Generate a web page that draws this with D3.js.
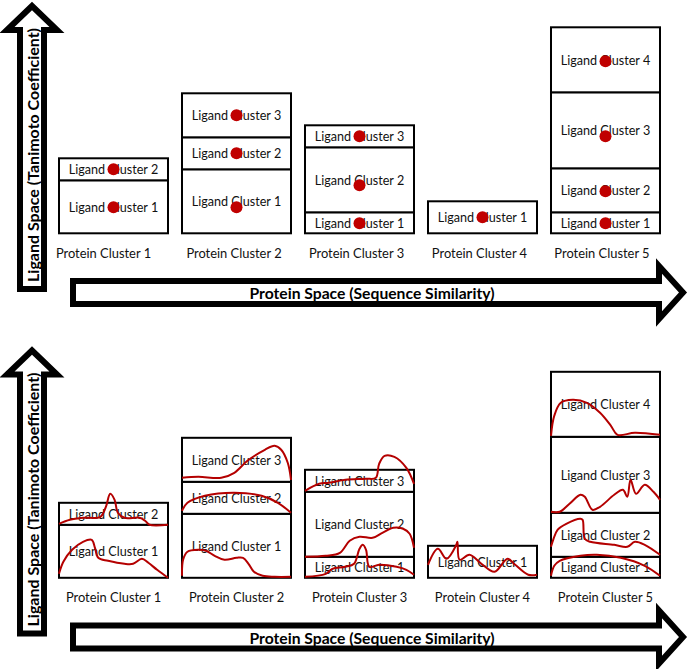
<!DOCTYPE html>
<html><head><meta charset="utf-8">
<script src="https://cdn.jsdelivr.net/npm/d3@7"></script>
<style>html,body{margin:0;padding:0;background:#fff;}svg{display:block;}</style>
</head><body>
<svg id="chart" width="689" height="669"></svg>
<script>
// ---------- data ----------
const proteinClusters = ["Protein Cluster 1","Protein Cluster 2","Protein Cluster 3","Protein Cluster 4","Protein Cluster 5"];
// extent of each ligand cluster (bottom to top) in ligand-space units
const ligandHeightsPC1 = [53, 22];
const ligandHeightsPC2 = [64, 32, 44];
const ligandHeightsPC3 = [21, 65, 22];
const ligandHeightsPC4 = [32];
const ligandHeightsPC5 = [21, 44, 76, 65];
// representative ligand value of each ligand cluster (top panel dots)
const dotValuesPC1 = [26, 64];
const dotValuesPC2 = [26, 80, 118];
const dotValuesPC3 = [10, 48, 97];
const dotValuesPC4 = [16];
const dotValuesPC5 = [10, 42, 97, 172];
// density profiles (bottom panel): [position across protein cluster, density]
const densityPC1 = [
  [[0,4],[0.04,16],[0.12,28],[0.22,36],[0.3,38],[0.33,30],[0.36,20],[0.45,17],[0.6,14],[0.68,14],[0.76,19],[0.82,15],[0.9,8],[1,0]],
  [[0,1],[0.1,5],[0.22,7],[0.38,8],[0.43,18],[0.47,31],[0.51,25],[0.54,12],[0.6,7],[0.74,7],[0.79,4],[0.83,0],[1,0]]
];
const densityPC2 = [
  [[0,2],[0.01,18],[0.05,26],[0.15,28],[0.22,27],[0.3,22],[0.39,18],[0.5,20],[0.56,20],[0.61,14],[0.66,6],[0.74,2],[0.85,1],[1,1]],
  [[0,3],[0.05,11],[0.21,18],[0.48,21],[0.73,18],[0.88,11],[1,1]],
  [[0,4],[0.15,5],[0.36,4],[0.48,9],[0.6,21],[0.76,32],[0.85,36],[0.91,32],[0.97,19],[1,2]]
];
const densityPC3 = [
  [[0,1],[0.19,4],[0.25,9],[0.37,11],[0.45,14],[0.5,29],[0.53,33],[0.56,28],[0.59,11],[0.68,13],[0.84,11],[0.93,8],[1,3]],
  [[0,0],[0.19,1],[0.32,4],[0.41,16],[0.5,20],[0.62,19],[0.71,24],[0.81,29],[0.9,28],[0.96,23],[1,9]],
  [[0,1],[0.13,8],[0.22,9],[0.37,12],[0.56,13],[0.65,14],[0.68,28],[0.73,36],[0.82,35],[0.93,24],[1,8]]
];
const densityPC4 = [
  [[0,13],[0.09,29],[0.17,19],[0.26,33],[0.27,36],[0.29,18],[0.38,23],[0.49,14],[0.61,6],[0.73,19],[0.8,13],[0.92,3],[1,3]]
];
const densityPC5 = [
  [[0,2],[0.03,12],[0.08,17],[0.27,22],[0.42,23],[0.64,20],[0.86,12],[1,2]],
  [[0,10],[0.02,17],[0.06,27],[0.14,33],[0.27,38],[0.29,37],[0.31,18],[0.36,15],[0.58,12],[0.7,10],[0.77,15],[0.86,12],[1,2]],
  [[0,1],[0.08,1],[0.17,9],[0.27,18],[0.31,16],[0.38,3],[0.45,6],[0.58,18],[0.66,23],[0.7,16],[0.73,33],[0.78,19],[0.86,28],[0.94,21],[1,13]],
  [[0,1],[0.03,21],[0.09,34],[0.2,37],[0.33,34],[0.45,24],[0.55,11],[0.61,2],[0.77,4],[1,2]]
];
const yAxisTitle = "Ligand Space (Tanimoto Coefficient)";
const xAxisTitle = "Protein Space (Sequence Similarity)";
const ligandLabelPrefix = "Ligand Cluster ";

const ligandHeights = [ligandHeightsPC1, ligandHeightsPC2, ligandHeightsPC3, ligandHeightsPC4, ligandHeightsPC5];
const dotValues = [dotValuesPC1, dotValuesPC2, dotValuesPC3, dotValuesPC4, dotValuesPC5];
const densities = [densityPC1, densityPC2, densityPC3, densityPC4, densityPC5];

// ---------- drawing ----------
const svg = d3.select("#chart");
const FONT = "Lato, 'Open Sans', sans-serif";
const RED = "#c00000";

const x = d3.scaleBand().domain(proteinClusters).range([59, 660]).paddingInner(0.1138).paddingOuter(0);
const panelOffsets = [0, 344.5];
// small horizontal nudges of the protein labels in the upper panel
const topLabelNudge = [-10, -2.5, -3, -3, -3.5];

function drawArrows(g) {
  const vx0 = 20, vx1 = 44, vTip = 6, vBase = 30, vBottom = 289, vWing = 13;
  g.append("path")
    .attr("d", `M${(vx0+vx1)/2},${vTip} L${vx1+vWing},${vBase} L${vx1},${vBase} L${vx1},${vBottom} L${vx0},${vBottom} L${vx0},${vBase} L${vx0-vWing},${vBase} Z`)
    .attr("fill", "#fff").attr("stroke", "#000").attr("stroke-width", 6).attr("stroke-linejoin", "miter");
  g.append("text")
    .attr("transform", `translate(${(vx0+vx1)/2 + 0.5},${155}) rotate(-90)`)
    .attr("text-anchor", "middle").attr("dominant-baseline", "central")
    .attr("font-family", FONT).attr("font-weight", "bold").attr("font-size", 16)
    .text(yAxisTitle);
  const hy0 = 281, hy1 = 304, hLeft = 73, hBase = 659, hTip = 683, hWing = 15;
  g.append("path")
    .attr("d", `M${hLeft},${hy0} L${hBase},${hy0} L${hBase},${hy0-hWing} L${hTip},${(hy0+hy1)/2} L${hBase},${hy1+hWing} L${hBase},${hy1} L${hLeft},${hy1} Z`)
    .attr("fill", "#fff").attr("stroke", "#000").attr("stroke-width", 6).attr("stroke-linejoin", "miter");
  g.append("text")
    .attr("x", 372).attr("y", (hy0+hy1)/2 + 0.5)
    .attr("text-anchor", "middle").attr("dominant-baseline", "central")
    .attr("font-family", FONT).attr("font-weight", "bold").attr("font-size", 15.7)
    .text(xAxisTitle);
}

panelOffsets.forEach((off, pi) => {
  const g = svg.append("g").attr("transform", `translate(0,${off})`);
  const y = d3.scaleLinear().domain([0, 206]).range([233.3, 27.3]);
  drawArrows(g);

  proteinClusters.forEach((pc, i) => {
    const x0 = x(pc), bw = x.bandwidth();
    const heights = ligandHeights[i];
    const bounds = [0];
    heights.forEach(h => bounds.push(bounds[bounds.length-1] + h));
    const segs = heights.map((h, j) => ({ j, lo: bounds[j], hi: bounds[j+1] }));
    const cg = g.append("g");
    cg.selectAll("rect.seg").data(segs).enter().append("rect")
      .attr("class", "seg")
      .attr("x", x0).attr("width", bw)
      .attr("y", d => y(d.hi)).attr("height", d => y(d.lo) - y(d.hi))
      .attr("fill", "#fff").attr("stroke", "#000").attr("stroke-width", 2);
    cg.selectAll("text.lig").data(segs).enter().append("text")
      .attr("class", "lig")
      .attr("x", x0 + bw/2).attr("y", d => (y(d.lo) + y(d.hi))/2 + 0.5)
      .attr("text-anchor", "middle").attr("dominant-baseline", "central")
      .attr("font-family", FONT).attr("font-size", 12.6).attr("fill", "#111")
      .text(d => ligandLabelPrefix + (d.j + 1));
    cg.append("text")
      .attr("x", x0 + bw/2 + (pi === 0 ? topLabelNudge[i] : 0)).attr("y", 252.5)
      .attr("text-anchor", "middle").attr("dominant-baseline", "central")
      .attr("font-family", FONT).attr("font-size", 12.9).attr("fill", "#111")
      .text(pc);

    if (pi === 0) {
      cg.selectAll("circle").data(dotValues[i]).enter().append("circle")
        .attr("cx", x0 + bw/2).attr("cy", d => y(d)).attr("r", 6)
        .attr("fill", RED);
    } else {
      const xs = d3.scaleLinear().domain([0, 1]).range([x0, x0 + bw]);
      densities[i].forEach((pts, j) => {
        const line = d3.line()
          .x(d => xs(d[0]))
          .y(d => y(bounds[j] + d[1]))
          .curve(d3.curveCatmullRom.alpha(0.5));
        cg.append("path").attr("d", line(pts))
          .attr("fill", "none").attr("stroke", "#b40000").attr("stroke-width", 2);
      });
    }
  });
});
</script>
</body></html>
